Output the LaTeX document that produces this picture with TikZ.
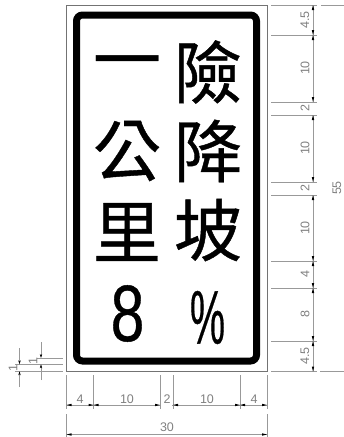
\documentclass[tikz,border=0pt]{standalone}
\usepackage{fontspec}
\usetikzlibrary{arrows.meta}
\setmainfont{Liberation Sans}
\newfontfamily\cjk[FakeBold=0.6]{Noto Sans CJK TC}
\newfontfamily\latinbold[FakeBold=0.5]{Liberation Sans}
\tikzset{
  dimline/.style={draw=black!40,line width=0.6pt},
  dimarrow/.style={dimline,-{Stealth[length=4pt,width=2.4pt,black]}},
  dimtext/.style={text=black!50,font=\fontsize{12.5}{12.5}\selectfont,inner sep=0pt},
  dimtextv/.style={dimtext,rotate=90},
  han/.style={font=\cjk\fontsize{68}{68}\selectfont,inner sep=0pt,text=black},
  latin/.style={font=\latinbold\fontsize{80}{80}\selectfont,inner sep=0pt,text=black},
}
\begin{document}
\begin{tikzpicture}[x=1pt,y=-1pt]
\useasboundingbox (0,0) rectangle (344,437);
% sign
\draw[black!55,line width=0.7pt] (66.5,5) rectangle (267,371.5);
\draw[black,line width=7pt,rounded corners=6pt] (76.5,15) rectangle (256.5,361);
\node[han] (a1) at (127,70) {一};
\node[han] (b1) at (208,72) {險};
\node[han] (a2) at (127,151) {公};
\node[han] (b2) at (208,151) {降};
\node[han] (a3) at (127,232) {里};
\node[han] (b3) at (208,230) {坡};
\node[latin,xscale=0.76] (a4) at (127.5,313.5) {8};
\node[latin,xscale=0.52,font=\latinbold\fontsize{76}{76}\selectfont] (b4) at (207.5,317.5) {\%};
% right dims
\foreach \yy in {5,35,102,115,182,195,261,288,341,371.5}
  \draw[dimline] (271,\yy) -- (317,\yy);
\draw[dimline] (313,5) -- (313,371.5);
\draw[dimline] (321,5) -- (344,5);
\draw[dimline] (320,371.5) -- (344,371.5);
\foreach \yy in {5,35,115,195,261,288,341}
  \fill[black] (313,\yy) -- (311.8,\yy+5) -- (314.2,\yy+5) -- cycle;
\foreach \yy in {35,102,182,261,288,341,371.5}
  \fill[black] (313,\yy) -- (311.8,\yy-5) -- (314.2,\yy-5) -- cycle;
\foreach \yy in {102,182}
  \fill[white] (311,\yy+1) rectangle (315,\yy+12.5);
\foreach \yy/\t in {20/4.5,68/10,108/2,148/10,188/2,228/10,274/4,314/8,356/4.5}
  \node[dimtextv] (r\yy) at (305,\yy) {\t};
\node[dimtextv] (rt) at (337,188) {55};
% bottom dims
\foreach \xx in {66.5,93.5,160,173,240,267}
  \draw[dimline] (\xx,375) -- (\xx,409);
\draw[dimline] (66.5,405) -- (267,405);
\foreach \xx in {66.5,93.5,173,240}
  \fill[black] (\xx,405) -- (\xx+5,403.8) -- (\xx+5,406.2) -- cycle;
\foreach \xx in {93.5,160,240,267}
  \fill[black] (\xx,405) -- (\xx-5,403.8) -- (\xx-5,406.2) -- cycle;
\fill[white] (161,403) rectangle (172,407);
\foreach \xx/\t in {80/4,127/10,167/2,207/10,254/4}
  \node[dimtext] (b\xx) at (\xx,399) {\t};
\draw[dimline] (66.5,414) -- (66.5,437);
\draw[dimline] (267,414) -- (267,437);
\draw[dimline] (66.5,434.5) -- (267,434.5);
\fill[black] (66.5,434.5) -- (71.5,433.3) -- (71.5,435.7) -- cycle;
\fill[black] (267,434.5) -- (262,433.3) -- (262,435.7) -- cycle;
\node[dimtext] (bt) at (167,427) {30};
% left dims
\draw[dimline] (37,358) -- (63,358);
\draw[dimline] (15,364.3) -- (63,364.3);
\draw[dimline] (15,371.3) -- (63,371.3);
\draw[dimarrow] (41,342) -- (41,358);
\draw[dimarrow] (41,380) -- (41,364.3);
\draw[dimarrow] (19.5,348) -- (19.5,364.3);
\draw[dimarrow] (19.5,387) -- (19.5,371.3);
\node[dimtextv] (l1) at (33,361) {1};
\node[dimtextv] (l2) at (13,368) {1};
\end{tikzpicture}
\end{document}
